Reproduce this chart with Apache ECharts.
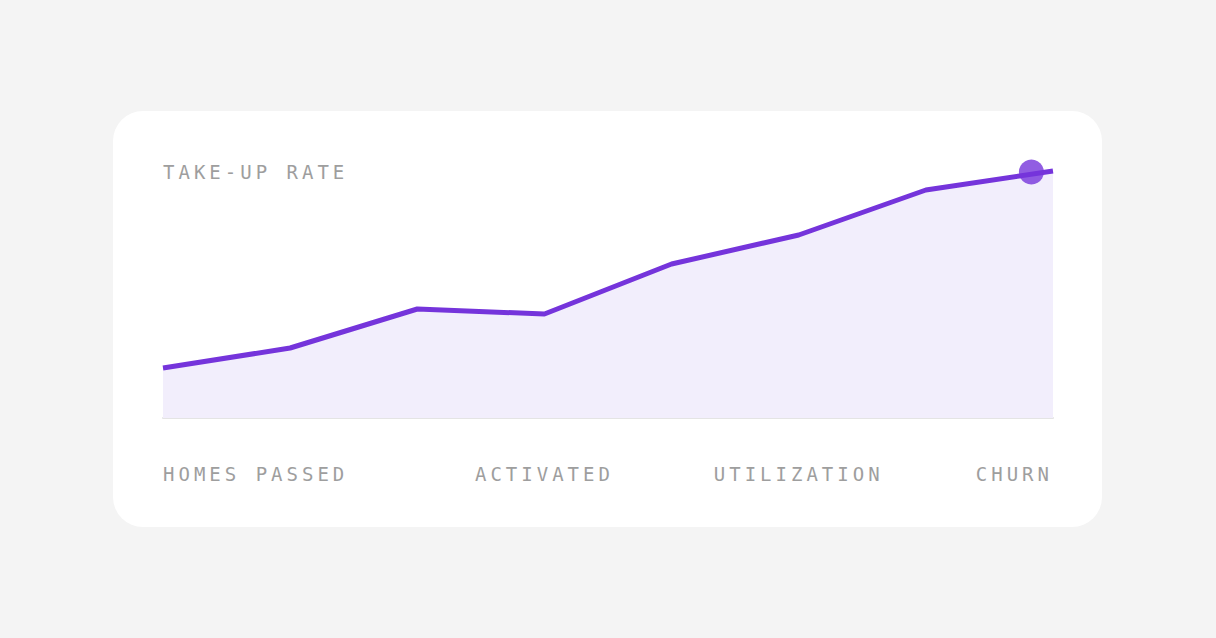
<!DOCTYPE html>
<html><head><meta charset="utf-8">
<script src="https://cdn.jsdelivr.net/npm/echarts@6/dist/echarts.min.js"></script>
<style>html,body{margin:0;background:#fff}#c{width:1216px;height:638px}
text{letter-spacing:4px}</style></head>
<body><div id="c"></div>
<script>
const categories = ['HOMES PASSED','','','ACTIVATED','','UTILIZATION','','CHURN'];
const labelAlign = ['left','center','center','center','center','center','center','right'];
const values = [50,70,109,104,154,183,228,247];
const highlight = [[6.83,246]];
const title = 'TAKE-UP RATE';
const font = '"DejaVu Sans Mono", monospace';
const chart = echarts.init(document.getElementById('c'), null, {renderer:'svg'});
chart.setOption({
  animation:false,
  backgroundColor:'#f4f4f4',
  graphic:[
    {type:'rect',z:-10,shape:{x:113,y:111,width:989,height:416,r:30},style:{fill:'#fff'}},
    {type:'text',left:163,top:162,style:{text:title,font:'19px '+font,fill:'#9e9e9e'}}
  ],
  grid:{left:163,right:163,top:158,bottom:220},
  xAxis:[
    {type:'category',boundaryGap:false,data:categories.map((c,i)=>({value:c,textStyle:{align:labelAlign[i]}})),
     axisLine:{lineStyle:{color:'#e4e4e4',width:2}},axisTick:{show:false},
     axisLabel:{interval:0,margin:46,fontFamily:font,fontSize:19,color:'#9e9e9e'}},
    {type:'value',min:0,max:7,show:false}
  ],
  yAxis:{type:'value',min:0,max:260,show:false},
  series:[
    {type:'line',xAxisIndex:1,data:values.map((v,i)=>[i,v]),symbol:'none',
     lineStyle:{color:'#7534db',width:5},areaStyle:{color:'#f2eefc',opacity:1}},
    {type:'scatter',xAxisIndex:1,data:highlight,symbolSize:25,itemStyle:{color:'#7534db'},z:5}
  ]
});
</script></body></html>
